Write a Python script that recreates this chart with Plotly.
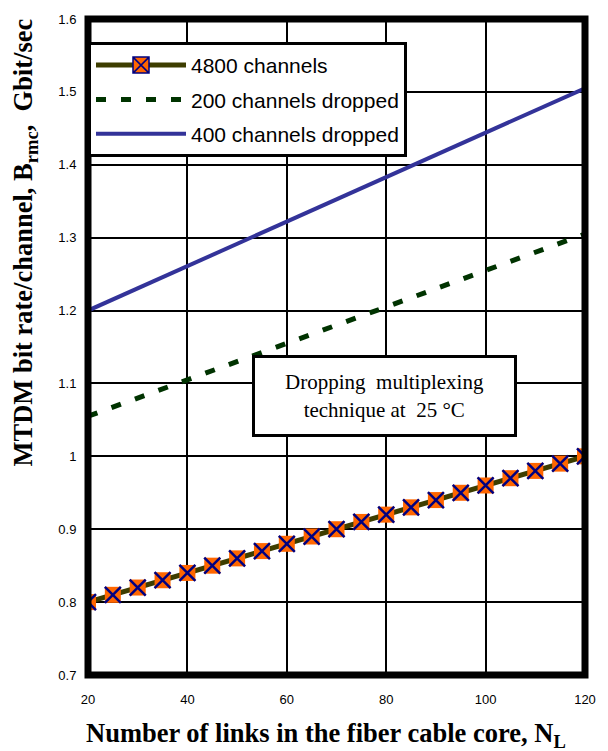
import plotly.graph_objects as go

# Data
x_links = [20, 25, 30, 35, 40, 45, 50, 55, 60, 65, 70, 75, 80, 85, 90, 95, 100, 105, 110, 115, 120]
rate_4800 = [0.80, 0.81, 0.82, 0.83, 0.84, 0.85, 0.86, 0.87, 0.88, 0.89, 0.90,
             0.91, 0.92, 0.93, 0.94, 0.95, 0.96, 0.97, 0.98, 0.99, 1.00]
x_drop = [20, 40, 60, 80, 100, 120]
rate_200 = [1.055, 1.105, 1.155, 1.205, 1.255, 1.305]
rate_400 = [1.200, 1.261, 1.322, 1.383, 1.444, 1.505]
y_ticks = [0.7, 0.8, 0.9, 1.0, 1.1, 1.2, 1.3, 1.4, 1.5, 1.6]
y_tick_text = ["0.7", "0.8", "0.9", "1", "1.1", "1.2", "1.3", "1.4", "1.5", "1.6"]
x_ticks = [20, 40, 60, 80, 100, 120]

fig = go.Figure()

# legend-only entry for the 4800-channel series (line + orange square with navy X)
fig.add_trace(go.Scatter(
    x=[None], y=[None], mode="lines+markers", name="4800 channels",
    line=dict(color="#3d3d00", width=5),
    marker=dict(symbol="square-x", size=16, color="#ff6600",
                line=dict(width=1.5, color="#000080")),
    legendgroup="a",
))
fig.add_trace(go.Scatter(
    x=x_links, y=rate_4800, mode="lines+markers", name="4800 channels", showlegend=False,
    line=dict(color="#3d3d00", width=5),
    marker=dict(symbol="square", size=16, color="#ff6600", line=dict(width=0)),
    legendgroup="a",
))
fig.add_trace(go.Scatter(
    x=x_links, y=rate_4800, mode="markers", showlegend=False,
    marker=dict(symbol="x-thin-open", size=16, color="#000080", line=dict(width=2.5, color="#000080")),
    legendgroup="a",
))
fig.add_trace(go.Scatter(
    x=x_drop, y=rate_200, mode="lines", name="200 channels dropped",
    line=dict(color="#003300", width=5, dash="10px,15px"),
    legendgroup="b",
))
fig.add_trace(go.Scatter(
    x=x_drop, y=rate_400, mode="lines", name="400 channels dropped",
    line=dict(color="#333399", width=4),
    legendgroup="c",
))

fig.update_layout(
    width=608, height=751,
    margin=dict(l=88, r=18, t=15, b=76),
    paper_bgcolor="white", plot_bgcolor="white",
    font=dict(family="Arial, Liberation Sans", color="black"),
    xaxis=dict(range=[20, 120], tickvals=x_ticks, showgrid=True, gridcolor="black",
               gridwidth=2, zeroline=False, ticks="outside", ticklen=12,
               tickcolor="rgba(0,0,0,0)", tickfont=dict(size=13)),
    yaxis=dict(range=[0.7, 1.6], tickvals=y_ticks, ticktext=y_tick_text, showgrid=True,
               gridcolor="black", gridwidth=2, zeroline=False, ticks="outside",
               ticklen=8, tickcolor="rgba(0,0,0,0)", tickfont=dict(size=13)),
    legend=dict(x=0.0, y=0.965, xanchor="left", yanchor="top",
                bgcolor="white", bordercolor="black", borderwidth=3,
                font=dict(size=21, family="Arial, Liberation Sans"),
                itemwidth=90, traceorder="grouped", tracegroupgap=4),
    shapes=[dict(type="rect", xref="paper", yref="paper", x0=0, x1=1, y0=0, y1=1,
                 line=dict(color="black", width=7), layer="above")],
    annotations=[
        dict(x=79.6, y=1.0832, xref="x", yref="y",
             text="Dropping  multiplexing<br>technique at  25 °C",
             showarrow=False, bgcolor="white", bordercolor="black", borderwidth=3,
             width=255, height=72, borderpad=2,
             font=dict(family="Times New Roman, Liberation Serif", size=21, color="black")),
        dict(x=-0.1654, y=0.659, xref="paper", yref="paper", textangle=-90,
             text="<b>MTDM bit rate/channel, B<sub>rmc</sub>,  Gbit/sec</b>",
             showarrow=False,
             font=dict(family="Times New Roman, Liberation Serif", size=26.5, color="black")),
        dict(x=0.478, y=-0.12, xref="paper", yref="paper",
             text="<b>Number of links in the fiber cable core, N<sub>L</sub></b>",
             showarrow=False,
             font=dict(family="Times New Roman, Liberation Serif", size=26.5, color="black")),
    ],
)

fig.write_html("out.html")
